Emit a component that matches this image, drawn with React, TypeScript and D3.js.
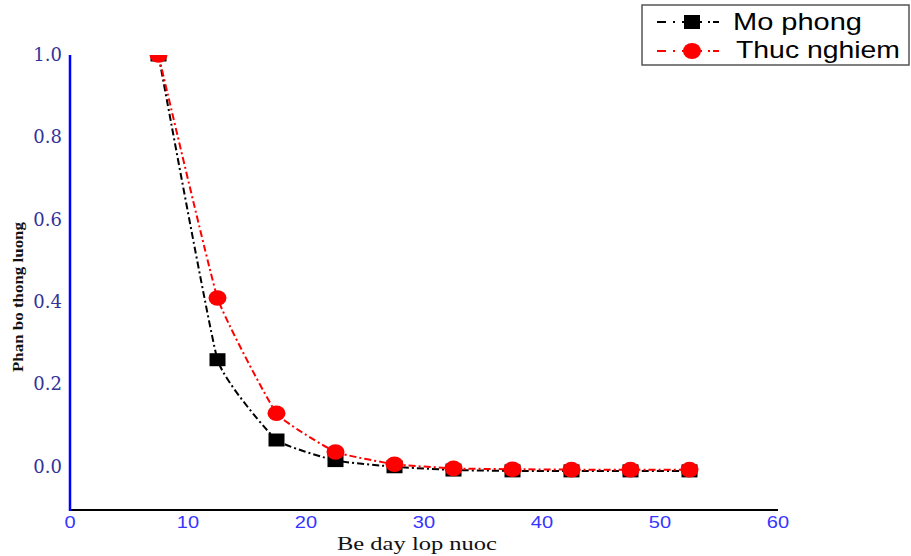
import React from "react";
import * as d3 from "d3";

const xValues = [7.5, 12.5, 17.5, 22.5, 27.5, 32.5, 37.5, 42.5, 47.5, 52.5];
const moPhong = [1.0, 0.26, 0.065, 0.015, 0.0, -0.008, -0.01, -0.01, -0.01, -0.01];
const thucNghiem = [1.0, 0.41, 0.13, 0.036, 0.006, -0.004, -0.006, -0.007, -0.007, -0.007];
const xTicks = [0, 10, 20, 30, 40, 50, 60];
const yTicks = [0.0, 0.2, 0.4, 0.6, 0.8, 1.0];
const seriesNames = ["Mo phong", "Thuc nghiem"];

const W = 911;
const H = 556;
const left = 70;
const right = 778;
const top = 55;
const bottom = 510;

function LegendLine({ y, color }: { y: number; color: string }) {
  return (
    <g stroke={color} strokeWidth={2}>
      <line x1={657} y1={y} x2={666} y2={y} />
      <line x1={673} y1={y} x2={675} y2={y} />
      <line x1={682} y1={y} x2={702} y2={y} />
      <line x1={708} y1={y} x2={710} y2={y} />
      <line x1={713} y1={y} x2={719} y2={y} />
    </g>
  );
}

export default function App() {
  const x = d3.scaleLinear().domain([0, 60]).range([left, right]);
  const y = d3.scaleLinear().domain([-0.105, 1.0]).range([bottom, top]);
  const line = d3
    .line<number>()
    .x((_, i) => x(xValues[i]))
    .y((d) => y(d))
    .curve(d3.curveCardinal.tension(0.65));
  const dash = "7,3,2,3";
  const sq = { w: 16, h: 13 };
  return (
    <svg width={W} height={H} style={{ position: "absolute", left: 0, top: 0, background: "#fff" }}>
      <defs>
        <clipPath id="plot">
          <rect x={left} y={top} width={right - left + 20} height={bottom - top} />
        </clipPath>
      </defs>
      <line x1={left} y1={bottom} x2={right} y2={bottom} stroke="#000" strokeWidth={2} />
      <line x1={left} y1={top} x2={left} y2={bottom + 1} stroke="#0000ff" strokeWidth={2.5} />
      {yTicks.map((t) => (
        <text
          key={"y" + t}
          x={62}
          y={y(t) + 6}
          textAnchor="end"
          fontFamily="DejaVu Serif"
          fontSize={18}
          fill="#333399"
        >
          {t.toFixed(1)}
        </text>
      ))}
      {xTicks.map((t) => (
        <text
          key={"x" + t}
          x={x(t)}
          y={528}
          textAnchor="middle"
          fontFamily="Liberation Sans, Arial"
          fontSize={17}
          fill="#3535ff"
          transform={`translate(${x(t)},0) scale(1.18,1) translate(${-x(t)},0)`}
        >
          {t}
        </text>
      ))}
      <text
        x={337}
        y={550}
        fontFamily="Liberation Serif, Times New Roman, serif"
        fontSize={19}
        fill="#111"
        textLength={160}
        lengthAdjust="spacingAndGlyphs"
      >
        Be day lop nuoc
      </text>
      <text
        transform={`translate(23,372) rotate(-90)`}
        fontFamily="Liberation Serif, Times New Roman, serif"
        fontSize={15}
        fontWeight="bold"
        fill="#111"
        textLength={150}
        lengthAdjust="spacingAndGlyphs"
      >
        Phan bo thong luong
      </text>
      <g clipPath="url(#plot)">
        <path d={line(moPhong) || ""} fill="none" stroke="#000" strokeWidth={2} strokeDasharray={dash} />
        <path d={line(thucNghiem) || ""} fill="none" stroke="#ff0000" strokeWidth={2} strokeDasharray={dash} />
        {moPhong.map((v, i) => (
          <rect
            key={"m" + i}
            x={x(xValues[i]) - sq.w / 2}
            y={y(v) - sq.h / 2}
            width={sq.w}
            height={sq.h}
            fill="#000"
          />
        ))}
        {thucNghiem.map((v, i) => (
          <ellipse key={"t" + i} cx={x(xValues[i])} cy={y(v)} rx={9} ry={7.8} fill="#ff0000" />
        ))}
      </g>
      <rect x={642} y={5} width={267} height={60} fill="#fff" stroke="#555" strokeWidth={1.5} />
      <LegendLine y={22} color="#000" />
      <rect x={692 - 8} y={22 - 7} width={16} height={14} fill="#000" />
      <LegendLine y={51} color="#ff0000" />
      <ellipse cx={692} cy={51} rx={9} ry={8} fill="#ff0000" />
      <text
        x={733}
        y={30}
        fontFamily="Liberation Sans, Arial"
        fontSize={24}
        fill="#000"
        textLength={129}
        lengthAdjust="spacingAndGlyphs"
      >
        {seriesNames[0]}
      </text>
      <text
        x={736}
        y={58}
        fontFamily="Liberation Sans, Arial"
        fontSize={24}
        fill="#000"
        textLength={164}
        lengthAdjust="spacingAndGlyphs"
      >
        {seriesNames[1]}
      </text>
    </svg>
  );
}
